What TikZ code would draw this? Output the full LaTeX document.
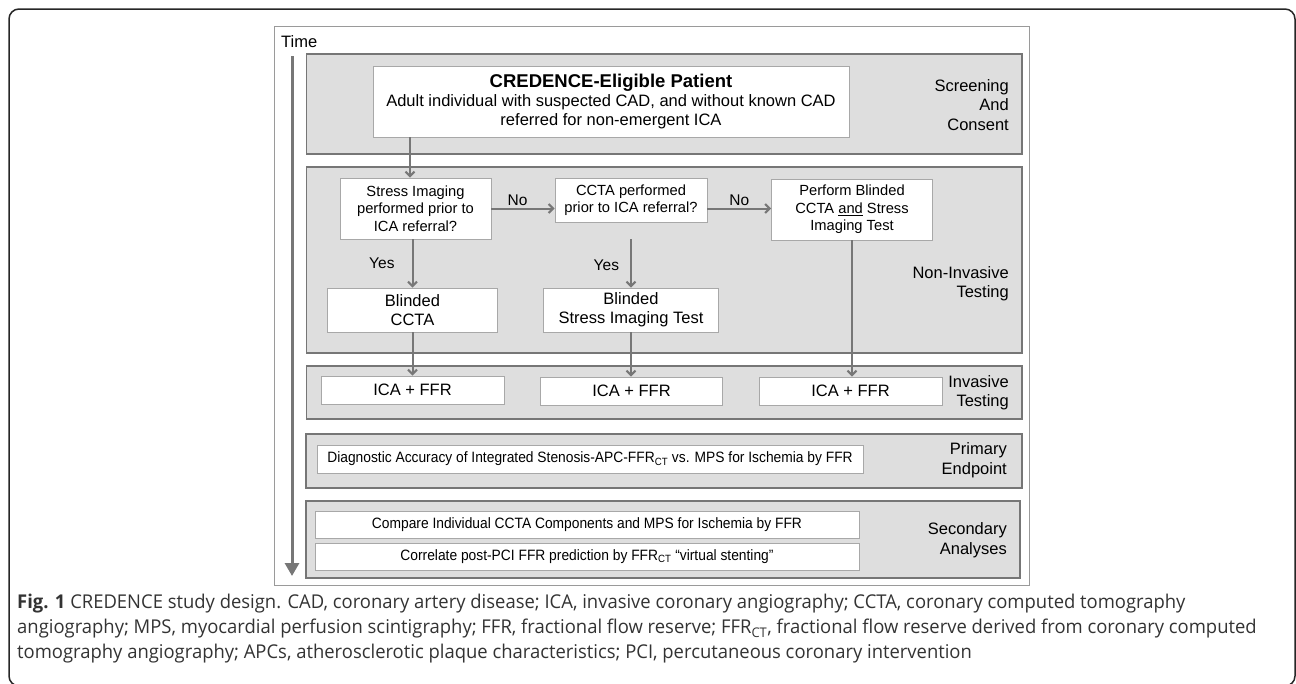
\documentclass[tikz,border=0pt]{standalone}
\usepackage{fontspec}
\usepackage{graphicx}
\setmainfont{Liberation Sans}
\newfontfamily\capfont[FakeStretch=0.97]{Open Sans}
\usetikzlibrary{arrows.meta,positioning,calc}
\definecolor{bandfill}{HTML}{DEDEDE}
\definecolor{bandline}{HTML}{767676}
\definecolor{boxline}{HTML}{A8A8A8}
\definecolor{framegray}{HTML}{9A9A9A}
\definecolor{flowgray}{HTML}{777777}
\definecolor{captext}{HTML}{333333}
\newcommand\narrowtext[1]{\scalebox{0.92}[1]{#1}}
\tikzset{
  band/.style={draw=bandline, fill=bandfill, line width=1.8pt, anchor=north west, inner sep=0pt},
  stepbox/.style={draw=boxline, fill=white, line width=0.9pt, align=center, inner sep=0pt,
    font=\fontsize{14.7}{17.5}\selectfont},
  widebox/.style={stepbox, font=\fontsize{16.5}{19}\selectfont},
  sidelbl/.style={anchor=east, align=right, inner sep=0pt, font=\fontsize{16.5}{19.5}\selectfont},
  flow/.style={draw=flowgray, line width=2pt, -{Straight Barb[length=4.5pt,width=9pt]}},
  ans/.style={font=\fontsize{15.5}{18}\selectfont, inner sep=1pt, text=black},
  capline/.style={anchor=west, inner sep=0pt, text=captext, font=\capfont\fontsize{19}{22}\selectfont}
}
\begin{document}
\begin{tikzpicture}[x=1pt,y=-1pt]
\useasboundingbox (0,0) rectangle (1296,683);
\draw[black!85, line width=1.5pt, rounded corners=10pt] (9,686) -- (9,9) -- (1295,9) -- (1295,686) -- cycle;
\node[draw=framegray, line width=0.9pt, anchor=north west, inner sep=0pt,
  minimum width=755, minimum height=559] (frame) at (274,26) {};

% time axis
\node[anchor=west, inner sep=0pt, font=\fontsize{16.5}{19}\selectfont] (time) at (281,42) {Time};
\coordinate (tstart) at (292,56);
\coordinate (tend) at (292,576);
\draw[flowgray, line width=3pt, -{Triangle[length=13pt,width=14pt]}] (tstart) -- (tend);

% phase bands
\node[band, minimum width=715.5, minimum height=100] (screen) at (305.5,53) {};
\node[band, minimum width=715.5, minimum height=186] (noninv) at (305.5,166) {};
\node[band, minimum width=715.5, minimum height=53] (inv) at (305.5,365) {};
\node[band, minimum width=716, minimum height=54] (prim) at (305,433) {};
\node[band, line width=2.4pt, minimum width=714, minimum height=77] (second) at (305,500) {};

\node[sidelbl] (lscreen) at (1009,105) {Screening\\And\\Consent};
\node[sidelbl] (lnoninv) at (1009,283.5) {Non-Invasive\\Testing};
\node[sidelbl] (linv) at (1009,392.5) {Invasive\\Testing};
\node[sidelbl] (lprim) at (1007,460) {Primary\\Endpoint};
\node[sidelbl] (lsecond) at (1007,540) {Secondary\\Analyses};

% steps
\node[widebox, minimum width=476, minimum height=71] (patient) at (611,101.5)
  {{\fontsize{18.5}{21}\selectfont\bfseries CREDENCE-Eligible Patient}\\[-0.5pt]
   Adult individual with suspected CAD, and without known CAD\\
   referred for non-emergent ICA};
\node[stepbox, minimum width=151, minimum height=61] (qstress) at (415.5,208.5)
  {Stress Imaging\\performed prior to\\ICA referral?};
\node[stepbox, minimum width=152, minimum height=44] (qccta) at (631,200)
  {CCTA performed\\prior to ICA referral?};
\node[stepbox, minimum width=161, minimum height=61] (both) at (852,209.5)
  {Perform Blinded\\CCTA \underline{and} Stress\\Imaging Test};
\node[widebox, minimum width=170, minimum height=44] (bccta) at (412.5,310)
  {Blinded\\CCTA};
\node[widebox, minimum width=175, minimum height=44] (bstress) at (631,310)
  {Blinded\\Stress Imaging Test};

\node[widebox, minimum width=183, minimum height=28] (icaA) at (412.5,390) {ICA + FFR};
\node[widebox, minimum width=182, minimum height=28] (icaB) at (631.5,391) {ICA + FFR};
\node[widebox, minimum width=183, minimum height=28] (icaC) at (850.5,391) {ICA + FFR};

\node[stepbox, minimum width=546, minimum height=28, font=\fontsize{15}{18}\selectfont] (endpt) at (590,459)
  {\narrowtext{Diagnostic Accuracy of Integrated Stenosis-APC-FFR\textsubscript{CT} vs. MPS for Ischemia by FFR}};
\node[stepbox, minimum width=544, minimum height=27, font=\fontsize{15}{18}\selectfont] (comp) at (587,524.5)
  {\narrowtext{Compare Individual CCTA Components and MPS for Ischemia by FFR}};
\node[stepbox, minimum width=544, minimum height=27, font=\fontsize{15}{18}\selectfont] (correl) at (587,556.5)
  {\narrowtext{Correlate post-PCI FFR prediction by FFR\textsubscript{CT} “virtual stenting”}};

% connectors
\draw[flow] ([xshift=-5.5pt]qstress.north |- patient.south) -- ([xshift=-5.5pt]qstress.north);
\draw[flow] (qstress.east) -- node[ans, above=1pt, xshift=-5.5pt] {No} (qstress.east -| qccta.west);
\draw[flow] (qccta.east |- qstress.east) -- node[ans, above=1pt] {No} (both.west |- qstress.east);
\draw[flow] (bccta.north |- qstress.south) -- node[ans, left=16pt] {Yes} (bccta.north);
\draw[flow] (bstress.north |- qstress.south) -- node[ans, left=10pt, yshift=-2pt] {Yes} (bstress.north);
\draw[flow] (bccta.south) -- (bccta.south |- icaA.north);
\draw[flow] (bstress.south) -- (bstress.south |- icaB.north);
\draw[flow] (both.south) -- (both.south |- icaC.north);

% caption
\node[capline] (cap1) at (17,604) {\textbf{Fig. 1} CREDENCE study design. CAD, coronary artery disease; ICA, invasive coronary angiography; CCTA, coronary computed tomography};
\node[capline] (cap2) at (17,629) {angiography; MPS, myocardial perfusion scintigraphy; FFR, fractional flow reserve; FFR\textsubscript{CT}, fractional flow reserve derived from coronary computed};
\node[capline] (cap3) at (17,654) {tomography angiography; APCs, atherosclerotic plaque characteristics; PCI, percutaneous coronary intervention};
\end{tikzpicture}
\end{document}
